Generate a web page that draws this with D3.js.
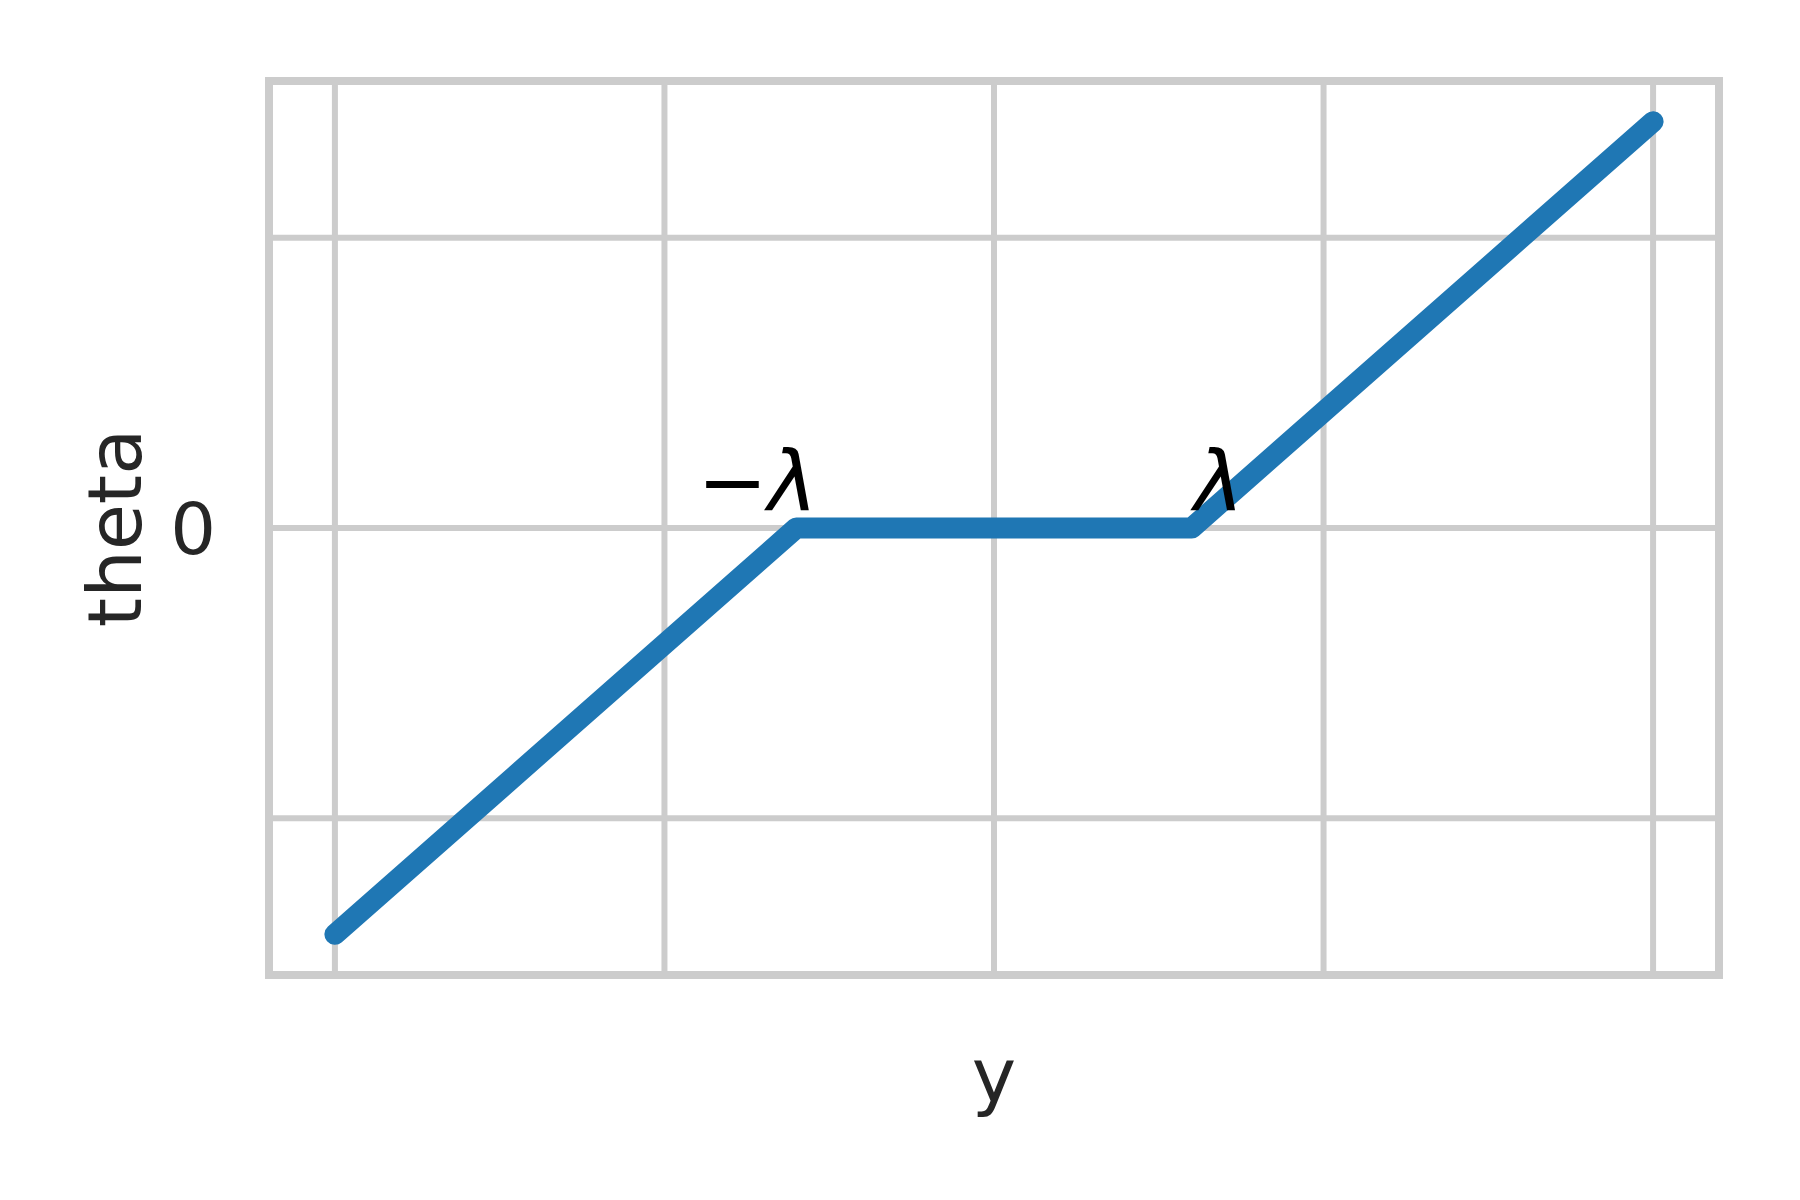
<!DOCTYPE html>
<html>
<head>
<meta charset="utf-8">
<script src="https://cdn.jsdelivr.net/npm/d3@7"></script>
<style>
  html, body { margin: 0; padding: 0; background: #ffffff; }
  svg { display: block; }
</style>
</head>
<body>
<svg id="chart" width="1800" height="1200"></svg>
<script>
// ---- data ----
const yValues = [-2, -0.6, 0.6, 2];          // input y
const thetaValues = [-1.4, 0, 0, 1.4];        // soft-thresholded theta
const xGridTicks = [-2, -1, 0, 1, 2];
const yGridTicks = [-1, 0, 1];
const yTickLabels = [{ v: 0, label: "0" }];
const annotations = [
  { x: -0.536, y: 0.06, label: "−λ", anchor: "end" },
  { x: 0.607, y: 0.06, label: "λ", anchor: "start" }
];

(function () {
// ---- layout ----
const svg = d3.select("#chart");
const pLeft = 269, pRight = 1719, pTop = 81, pBottom = 975;

const x = d3.scaleLinear().domain([-2.2, 2.2]).range([pLeft, pRight]);
const y = d3.scaleLinear().domain([-1.54, 1.54]).range([pBottom, pTop]);

const grid = "#cccccc";

// gridlines
svg.append("g").selectAll("line").data(xGridTicks).join("line")
  .attr("x1", d => x(d)).attr("x2", d => x(d))
  .attr("y1", pTop).attr("y2", pBottom)
  .attr("stroke", grid).attr("stroke-width", 6);
svg.append("g").selectAll("line").data(yGridTicks).join("line")
  .attr("y1", d => y(d)).attr("y2", d => y(d))
  .attr("x1", pLeft).attr("x2", pRight)
  .attr("stroke", grid).attr("stroke-width", 6);

// frame (spines)
svg.append("rect")
  .attr("x", pLeft).attr("y", pTop)
  .attr("width", pRight - pLeft).attr("height", pBottom - pTop)
  .attr("fill", "none").attr("stroke", grid).attr("stroke-width", 8);

// line
const pts = yValues.map((v, i) => [v, thetaValues[i]]);
svg.append("path")
  .datum(pts)
  .attr("d", d3.line().x(d => x(d[0])).y(d => y(d[1])))
  .attr("fill", "none")
  .attr("stroke", "#1f77b4")
  .attr("stroke-width", 21)
  .attr("stroke-linejoin", "round")
  .attr("stroke-linecap", "round");

// y tick labels
svg.append("g").selectAll("text").data(yTickLabels).join("text")
  .attr("x", 216).attr("y", d => y(d.v))
  .attr("dy", "0.36em")
  .attr("text-anchor", "end")
  .attr("font-family", "DejaVu Sans")
  .attr("font-size", 72)
  .attr("fill", "#262626")
  .text(d => d.label);

// axis labels
svg.append("text")
  .attr("x", (pLeft + pRight) / 2).attr("y", 1101)
  .attr("text-anchor", "middle")
  .attr("font-family", "DejaVu Sans")
  .attr("font-size", 75)
  .attr("fill", "#262626")
  .text("y");

svg.append("text")
  .attr("transform", `translate(141, ${(pTop + pBottom) / 2}) rotate(-90)`)
  .attr("text-anchor", "middle")
  .attr("font-family", "DejaVu Sans")
  .attr("font-size", 75)
  .attr("fill", "#262626")
  .text("theta");

// annotations
svg.append("g").selectAll("text").data(annotations).join("text")
  .attr("x", d => x(d.x)).attr("y", d => y(d.y))
  .attr("text-anchor", d => d.anchor)
  .attr("font-family", "DejaVu Sans")
  .attr("font-style", "italic")
  .attr("font-size", 84)
  .attr("fill", "#000000")
  .text(d => d.label);
})();
</script>
</body>
</html>
